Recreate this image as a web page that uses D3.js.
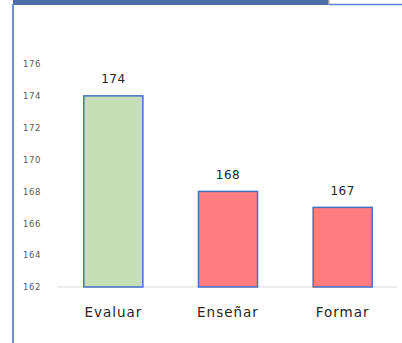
<!DOCTYPE html>
<html>
<head>
<meta charset="utf-8">
<script src="https://cdn.jsdelivr.net/npm/d3@7"></script>
<style>
  html, body { margin: 0; padding: 0; background: #fff; }
  svg { display: block; }
</style>
</head>
<body>
<svg id="chart" width="402" height="343"></svg>
<script>
// Chart data
const categories = ["Evaluar", "Enseñar", "Formar"];
const values = [174, 168, 167];
const barColors = ["#c5e0b4", "#ff7c80", "#ff7c80"];
const yTicks = [162, 164, 166, 168, 170, 172, 174, 176];

const svg = d3.select("#chart");
const W = 402, H = 343;
const FONT = "'DejaVu Sans', Verdana, sans-serif";

// Frame: header strip, thin top rule and left rule
svg.append("rect").attr("x", 13).attr("y", 0).attr("width", 315).attr("height", 5).attr("fill", "#4a6ea6");
svg.append("rect").attr("x", 328).attr("y", 0).attr("width", 1.5).attr("height", 5).attr("fill", "#a6a6a6");
svg.append("line").attr("x1", 329).attr("x2", W).attr("y1", 4.5).attr("y2", 4.5)
  .attr("stroke", "#5b84d1").attr("stroke-width", 1.5);
svg.append("line").attr("x1", 13).attr("x2", 13).attr("y1", 4).attr("y2", H)
  .attr("stroke", "#6d8fd6").attr("stroke-width", 2);

// Scales
const x = d3.scaleBand().domain(categories).range([56, 400]).paddingInner(0.485).paddingOuter(0.2425);
const y = d3.scaleLinear().domain([162, 176]).range([287, 64]);

// Y axis labels (no axis line)
const yAxis = d3.axisLeft(y).tickValues(yTicks).tickSize(0).tickPadding(0);
const gy = svg.append("g").attr("transform", "translate(41,0)").call(yAxis);
gy.select(".domain").remove();
gy.selectAll("text")
  .attr("font-family", FONT)
  .attr("font-size", 8.5).attr("letter-spacing", 0.6).attr("fill", "#595959");

// Baseline
svg.append("line").attr("x1", 57).attr("x2", 397).attr("y1", y(162)).attr("y2", y(162))
  .attr("stroke", "#d9d9d9").attr("stroke-width", 1);

// Bars
svg.selectAll("rect.bar").data(values).enter().append("rect")
  .attr("class", "bar")
  .attr("x", (d, i) => x(categories[i]))
  .attr("y", d => y(d))
  .attr("width", x.bandwidth())
  .attr("height", d => y(162) - y(d))
  .attr("fill", (d, i) => barColors[i])
  .attr("stroke", "#4472c4").attr("stroke-width", 1.5);

// Value labels
svg.selectAll("text.val").data(values).enter().append("text")
  .attr("class", "val")
  .attr("x", (d, i) => x(categories[i]) + x.bandwidth() / 2)
  .attr("y", d => y(d) - 17)
  .attr("dy", "0.35em")
  .attr("text-anchor", "middle")
  .attr("font-family", FONT)
  .attr("font-size", 12).attr("letter-spacing", 0.5).attr("fill", "#262626")
  .text(d => d);

// X axis category labels
const xAxis = d3.axisBottom(x).tickSize(0).tickPadding(0);
const gx = svg.append("g").attr("transform", "translate(0,312)").call(xAxis);
gx.select(".domain").remove();
gx.selectAll("text")
  .attr("dy", "0.35em")
  .attr("font-family", FONT)
  .attr("font-size", 13.5).attr("letter-spacing", 1).attr("fill", "#262626");
</script>
</body>
</html>
